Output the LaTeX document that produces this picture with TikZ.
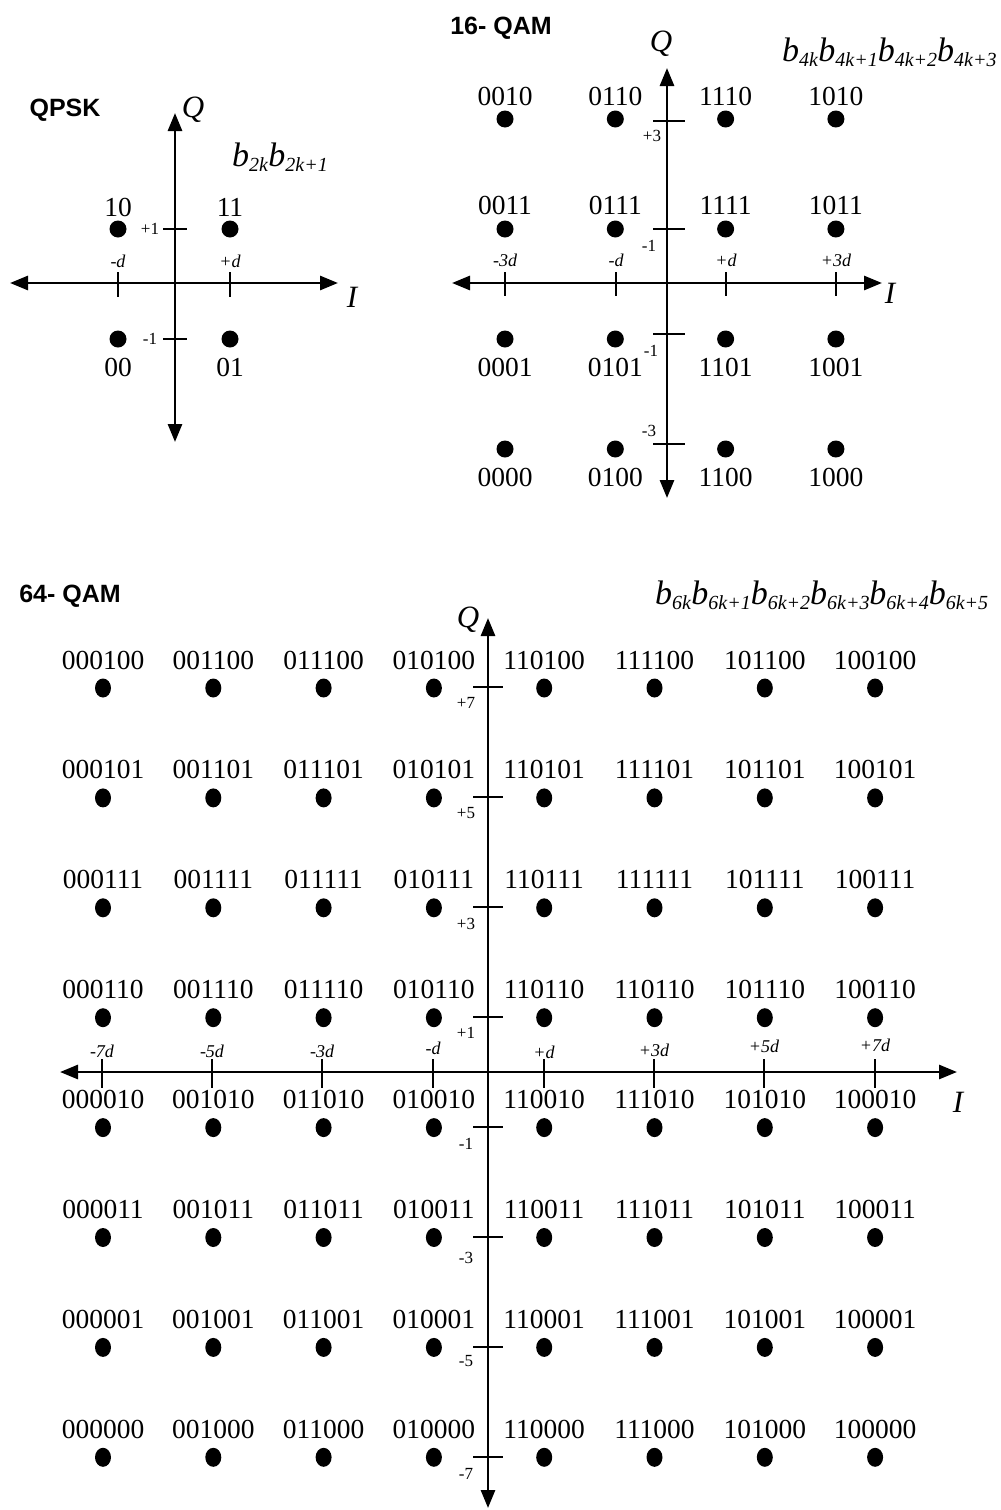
\documentclass[tikz,border=0pt]{standalone}
\usepackage{fontspec}
\setmainfont{Liberation Serif}
\newfontfamily\headfont{Liberation Sans}
\usetikzlibrary{arrows.meta,shapes.geometric}
\newcommand\bsub[1]{\textit{b}\raisebox{-0.15em}{\fontsize{20}{20}\selectfont\textit{#1}}}

\tikzset{
  axis/.style={line width=2.8pt,{Triangle[length=18pt,width=14pt]}-{Triangle[length=18pt,width=14pt]}},
  tickmark/.style={line width=2.2pt},
  pt/.style={circle,fill,inner sep=0pt,minimum size=17pt},
  pttall/.style={ellipse,fill,inner sep=0pt,minimum width=16pt,minimum height=19pt},
  bits/.style={font=\fontsize{27.5}{27.5}\selectfont},
  ticklab/.style={font=\fontsize{17}{17}\selectfont},
  dlab/.style={font=\fontsize{18}{18}\selectfont\itshape},
  axlab/.style={font=\fontsize{31}{31}\selectfont\itshape},
  maplab/.style={font=\fontsize{34}{34}\selectfont,anchor=west,inner sep=0pt},
  title/.style={font=\fontsize{25}{25}\selectfont\headfont\bfseries},
}

\begin{document}
\begin{tikzpicture}[x=1pt,y=-1pt]
  \useasboundingbox (0,0) rectangle (1001,1510);
  \fill[white] (0,0) rectangle (1001,1510);

  % QPSK
  \node[title] (qpsk) at (65,110) {QPSK};
  \coordinate (qpskL) at (10,283);  \coordinate (qpskR) at (338,283);
  \coordinate (qpskT) at (175,113); \coordinate (qpskB) at (175,442);
  \draw[axis] (qpskL) -- (qpskR);
  \draw[axis] (qpskB) -- (qpskT);
  \node[axlab] (qpskQ) at (193,110) {Q};
  \node[axlab] (qpskI) at (352,297) {I};
  \node[maplab] (qpskmap) at (232,157) {\bsub{2k}\bsub{2k+1}};
  \foreach \x/\lab in {118/-d, 230/+d}{
    \draw[tickmark] (\x,272) -- (\x,297);
    \node[dlab] at (\x,261) {\lab};}
  \foreach \y/\lab in {229/+1, 339/-1}{
    \draw[tickmark] (163,\y) -- (187,\y);
    \node[ticklab] at (150,\y) {\lab};}
  \foreach \x/\y/\lab/\dy in {118/229/10/-22, 230/229/11/-22, 118/339/00/28, 230/339/01/28}{
    \node[pt] (qpsk-\lab) at (\x,\y) {};
    \node[bits] at (\x,\y+\dy) {\lab};}

  % 16-QAM
  \node[title] (qam16) at (501,28) {16- QAM};
  \coordinate (q16L) at (452,283); \coordinate (q16R) at (882,283);
  \coordinate (q16T) at (667,68);  \coordinate (q16B) at (667,498);
  \draw[axis] (q16L) -- (q16R);
  \draw[axis] (q16B) -- (q16T);
  \node[axlab] (q16Q) at (661,44) {Q};
  \node[axlab] (q16I) at (890,293) {I};
  \node[maplab] (q16map) at (782,52) {\bsub{4k}\bsub{4k+1}\bsub{4k+2}\bsub{4k+3}};
  \foreach \x/\lab in {505/-3d, 616/-d, 726/+d, 836/+3d}{
    \draw[tickmark] (\x,272) -- (\x,296);
    \node[dlab] at (\x,260) {\lab};}
  \foreach \y/\lx/\ly/\lab in {121/652/136/+3, 229/649/246/-1, 334/651/351/-1, 444/649/431/-3}{
    \draw[tickmark] (653,\y) -- (685,\y);
    \node[ticklab] at (\lx,\ly) {\lab};}
  \foreach \row/\y/\dy [count=\r] in {{0010,0110,1110,1010}/119/-23, {0011,0111,1111,1011}/229/-24,
      {0001,0101,1101,1001}/339/28, {0000,0100,1100,1000}/449/28}{
    \foreach \lab [count=\c from 0] in \row{
      \node[pt] (q16-\lab) at ({505+110.3*\c},\y) {};
      \node[bits] at ({505+110.3*\c},\y+\dy) {\lab};}}

  % 64-QAM
  \node[title] (qam64) at (70,596) {64- QAM};
  \coordinate (q64L) at (60,1072);  \coordinate (q64R) at (957,1072);
  \coordinate (q64T) at (488,618);  \coordinate (q64B) at (488,1508);
  \draw[axis] (q64L) -- (q64R);
  \draw[axis] (q64B) -- (q64T);
  \node[axlab] (q64Q) at (468,620) {Q};
  \node[axlab] (q64I) at (958,1102) {I};
  \node[maplab] (q64map) at (655,595) {\bsub{6k}\bsub{6k+1}\bsub{6k+2}\bsub{6k+3}\bsub{6k+4}\bsub{6k+5}};
  \foreach \x/\ly/\lab in {102/1051/-7d, 212/1051/-5d, 322/1051/-3d, 433/1048/-d,
      544/1052/+d, 654/1050/+3d, 764/1046/+5d, 875/1045/+7d}{
    \draw[tickmark] (\x,1059) -- (\x,1088);
    \node[dlab] at (\x,\ly) {\lab};}
  \foreach \y/\ly/\lab in {687/703/+7, 797/813/+5, 907/924/+3, 1017/1033/+1,
      1127/1144/-1, 1237/1258/-3, 1347/1361/-5, 1457/1474/-7}{
    \draw[tickmark] (473,\y) -- (503,\y);
    \node[ticklab] at (466,\ly) {\lab};}
  \foreach \row [count=\r from 0] in {
      {000100,001100,011100,010100,110100,111100,101100,100100},
      {000101,001101,011101,010101,110101,111101,101101,100101},
      {000111,001111,011111,010111,110111,111111,101111,100111},
      {000110,001110,011110,010110,110110,110110,101110,100110},
      {000010,001010,011010,010010,110010,111010,101010,100010},
      {000011,001011,011011,010011,110011,111011,101011,100011},
      {000001,001001,011001,010001,110001,111001,101001,100001},
      {000000,001000,011000,010000,110000,111000,101000,100000}}{
    \foreach \lab [count=\c from 0] in \row{
      \node[pttall] (q64-\r-\c) at ({103+110.3*\c},{688+109.9*\r}) {};
      \node[bits] at ({103+110.3*\c},{660+109.9*\r}) {\lab};}}
\end{tikzpicture}
\end{document}
